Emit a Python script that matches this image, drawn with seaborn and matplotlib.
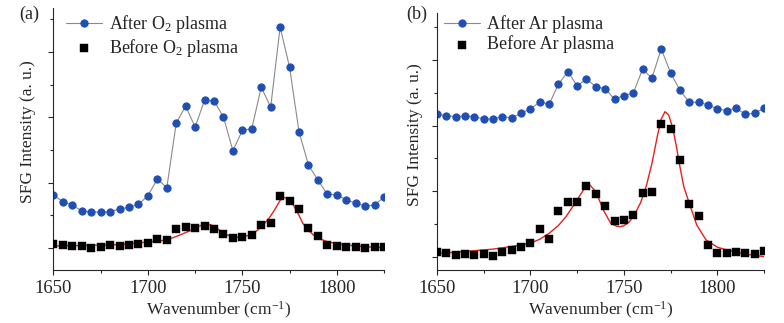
import numpy as np
import pandas as pd
import matplotlib
matplotlib.use("Agg")
import matplotlib.pyplot as plt
import seaborn as sns

# wavenumbers of the measured points (cm-1)
wavenumber = np.arange(1650, 1826, 5)

# panel (a), O2 plasma
after_o2 = [0.811, 0.709, 0.658, 0.566, 0.556, 0.546, 0.556, 0.597, 0.622, 0.668,
            0.801, 1.056, 0.923, 1.913, 2.173, 1.852, 2.265, 2.255, 2.005, 1.490,
            1.801, 1.827, 2.464, 2.158, 3.383, 2.770, 1.781, 1.270, 1.041, 0.821,
            0.816, 0.735, 0.689, 0.643, 0.658, 0.781]
before_o2 = [0.066, 0.046, 0.036, 0.031, 0.005, 0.010, 0.041, 0.026, 0.046, 0.056,
             0.082, 0.138, 0.117, 0.286, 0.327, 0.311, 0.342, 0.286, 0.219, 0.153,
             0.173, 0.204, 0.352, 0.378, 0.791, 0.714, 0.602, 0.311, 0.189, 0.041,
             0.026, 0.020, 0.015, 0.005, 0.020, 0.010]
fit_o2_x = [1650, 1665, 1680, 1690, 1696, 1703, 1710, 1717, 1724, 1728, 1731, 1735,
            1740, 1744, 1747, 1750, 1754, 1758, 1761, 1764, 1767, 1770, 1772, 1775,
            1777, 1780, 1782, 1785, 1788, 1791, 1795, 1800, 1805, 1815, 1825]
fit_o2_y = [0.031, 0.038, 0.046, 0.062, 0.081, 0.100, 0.122, 0.199, 0.286, 0.345,
            0.378, 0.337, 0.225, 0.175, 0.163, 0.168, 0.199, 0.270, 0.352, 0.450,
            0.580, 0.730, 0.776, 0.735, 0.658, 0.500, 0.378, 0.270, 0.190, 0.140,
            0.097, 0.065, 0.046, 0.020, 0.005]

# panel (b), Ar plasma
after_ar = [2.173, 2.152, 2.137, 2.147, 2.132, 2.102, 2.102, 2.137, 2.117, 2.188,
            2.254, 2.360, 2.325, 2.629, 2.822, 2.604, 2.711, 2.589, 2.563, 2.401,
            2.457, 2.492, 2.858, 2.721, 3.168, 2.802, 2.538, 2.355, 2.355, 2.315,
            2.254, 2.228, 2.264, 2.173, 2.188, 2.264]
before_ar = [0.081, 0.066, 0.025, 0.041, 0.025, 0.046, 0.020, 0.081, 0.107, 0.147,
             0.208, 0.431, 0.272, 0.706, 0.832, 0.832, 1.076, 0.954, 0.782, 0.553,
             0.569, 0.645, 0.970, 0.995, 2.025, 1.954, 1.472, 0.802, 0.629, 0.188,
             0.066, 0.066, 0.081, 0.066, 0.051, 0.086]
fit_ar_x = [1650, 1660, 1670, 1680, 1690, 1700, 1705, 1710, 1715, 1719, 1723, 1727,
            1730, 1732, 1735, 1739, 1743, 1746, 1748, 1750, 1753, 1756, 1759, 1762,
            1765, 1768, 1770, 1772, 1774, 1776, 1778, 1780, 1782, 1785, 1789, 1794,
            1800, 1805, 1815, 1825]
fit_ar_y = [0.056, 0.072, 0.096, 0.120, 0.160, 0.210, 0.270, 0.360, 0.480, 0.613,
            0.780, 0.960, 1.090, 1.090, 0.994, 0.715, 0.512, 0.470, 0.461, 0.475,
            0.537, 0.660, 0.830, 1.080, 1.420, 1.850, 2.100, 2.212, 2.160, 1.980,
            1.700, 1.374, 1.080, 0.817, 0.487, 0.259, 0.150, 0.107, 0.045, 0.005]

panels = [
    ("(a)", "O$_2$", after_o2, before_o2, fit_o2_x, fit_o2_y),
    ("(b)", "Ar", after_ar, before_ar, fit_ar_x, fit_ar_y),
]
# axes boxes in figure fraction, y ranges, and some per-panel placements
boxes = [[0.0682, 0.1641, 0.4216, 0.811], [0.5574, 0.1641, 0.4171, 0.7957]]
ylims = [(-0.337, 3.675), (-0.198, 3.714)]
ylabel_xy = [(-0.053, 0.529), (-0.043, 0.525)]
legend_at = [(0.0, 1.03), (-0.018, 1.04)]
tag_x = [0.037, 0.532]

sns.set_style("ticks")
plt.rcParams["font.family"] = ["Liberation Serif", "DejaVu Serif"]
plt.rcParams["mathtext.fontset"] = "custom"
plt.rcParams["mathtext.rm"] = "Liberation Serif"
plt.rcParams["mathtext.it"] = "Liberation Serif:italic"

blue = "#1f4fb4"
fig = plt.figure(figsize=(7.84, 3.23), dpi=100)

for i, (tag, gas, after, before, fx, fy) in enumerate(panels):
    ax = fig.add_axes(boxes[i])
    df = pd.DataFrame({"x": wavenumber, "after": after, "before": before})
    fit = pd.DataFrame({"x": fx, "y": fy})

    sns.lineplot(data=df, x="x", y="after", ax=ax, color="#8a8a8a", linewidth=0.8,
                 marker="o", markersize=5.2, markerfacecolor=blue,
                 markeredgecolor=blue, label="After " + gas + " plasma")
    sns.lineplot(data=fit, x="x", y="y", ax=ax, color="#e8201a", linewidth=1.0,
                 label="_fit")
    sns.scatterplot(data=df, x="x", y="before", ax=ax, marker="s", s=26,
                    color="black", edgecolor="black", linewidth=0.3,
                    label="Before " + gas + " plasma", zorder=3)

    ax.set_xlim(1650, 1825)
    ax.set_ylim(*ylims[i])
    ax.set_xticks([1650, 1700, 1750, 1800])
    ax.set_xticks([1675, 1725, 1775, 1825], minor=True)
    ax.set_yticks([0, 1, 2, 3])
    ax.set_yticks([0.5, 1.5, 2.5, 3.5], minor=True)
    ax.set_yticklabels([])
    ax.tick_params(which="major", length=3.5, width=0.8, labelsize=13.5, pad=4)
    ax.tick_params(which="minor", length=2, width=0.8)
    ax.set_xlabel("Wavenumber (cm$^{-1}$)", fontsize=12.5, labelpad=2)
    ax.set_ylabel("SFG Intensity (a. u.)", fontsize=12.5)
    ax.yaxis.set_label_coords(*ylabel_xy[i])
    sns.despine(ax=ax)

    ax.legend(loc="upper left", bbox_to_anchor=legend_at[i], frameon=False,
              fontsize=13, handlelength=2.0, handletextpad=0.4,
              labelspacing=0.12, borderaxespad=0.3)
    fig.text(tag_x[i], 0.955, tag, fontsize=13, ha="center", va="center")

fig.savefig("out.png", dpi=100)
